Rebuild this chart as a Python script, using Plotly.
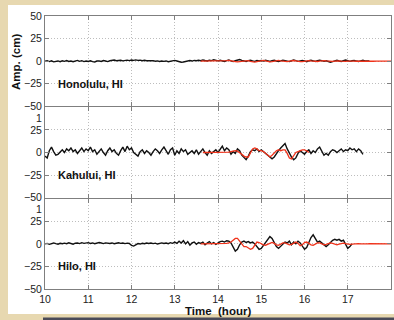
import numpy as np
import plotly.graph_objects as go
from plotly.subplots import make_subplots

STEP = 0.05  # hours between samples

stations = ["Honolulu, HI", "Kahului, HI", "Hilo, HI"]
x_ticks = [10, 11, 12, 13, 14, 15, 16, 17, 18]
y_ticks_top = [-50, -25, 0, 25, 50]
y_ticks_lower = [-50, -25, 0, 25]

# observed (black) series: start hour + values every STEP hours
obs_start = [10.0, 10.0, 10.0]
honolulu_obs = [
    0, 0.5, -0.5, 0.3, -0.8, -0.3, 0.2, -0.6, 0.4, -0.2,
    0.6, -0.4, 0.1, -0.7, 0.3, 0.8, -0.2, 0.5, -0.5, 0.2,
    -0.3, 0.4, -0.6, -0.9, 0.1, 0.3, -0.4, 0.6, 0.2, -0.5,
    0.4, 0.9, 1.2, 0.5, 0.8, 1.0, 0.3, 0.7, 1.1, 0.6,
    1.3, 0.9, 1.4, 0.8, 1.1, 0.5, 0.9, 0.4, 0.6, 0.2,
    0.5, -0.1, 0.3, -0.4, 0.1, -0.3, 0.2, -0.6, -0.1, 0.4,
    0.8, 0.2, -0.5, -1.2, -1.0, -0.4, 0.3, 0.6, 0.1, 0.8,
    0.4, 1.0, 0.5, 1.3, 0.7, 0.2, 1.1, 0.6, 1.5, 0.8,
    0.3, 1.0, 0.4, -0.3, 0.6, 1.2, 0.2, -0.5, 0.4, 0.9,
    1.8, 0.8, 0.2, -0.4, 0.5, 1.1, 0.3, -0.2, 0.6, 0.1,
    0.7, 0.2, 1.0, 0.4, -0.3, 0.5, 0.9, 0.2, -0.4, 0.3,
    1.1, 0.6, 0.0, -0.5, 0.4, 1.3, 0.5, -0.2, 0.3, 0.8,
    0.2, -0.6, 0.4, 1.0, 0.3, -0.4, 0.6, 1.1, 0.5, -0.2,
    0.4, -0.8, -1.2, -0.5, 0.3, 0.9, 0.2, -0.3, 0.6, 1.2,
    0.5, -0.2, 0.4, 0.8, 0.1, -0.4, 0.3, 0.9, 0.2, 0.6,
    0.3,
]
kahului_obs = [
    -4, -6, 2, 6, 1, -3, -2, 1, 3, 0,
    4, 2, 5, 1, 3, -1, 2, 5, 1, 4,
    2, 6, 1, 3, -2, 1, 4, 0, -3, 2,
    5, 1, 3, -1, -3, 2, 6, 1, 7, 3,
    5, 0, -2, -4, 1, 3, -1, 2, 0, -3,
    1, 4, 2, -1, 3, 6, 2, -2, 3, 5,
    -3, 2, -1, 4, 1, 3, -2, 0, 2, -1,
    3, -2, 1, 4, 0, -3, 2, -1, 1, 3,
    0, 4, 7, 2, 5, 3, -2, 1, -1, 4,
    2, -3, -5, -8, -4, 1, 3, 2, 4, 1,
    3, 1, -2, -4, -6, -7, -5, -1, 2, 5,
    8, 10, 4, -1, -5, -8, -6, -1, 2, 0,
    -2, 1, 3, -1, 2, 0, 4, 6, 2, -3,
    -1, -3, 1, 3, 2, 0, 2, 4, 1, 3,
    2, 5, 3, 4, 1, 4, 2, -2,
]
hilo_obs = [
    0, 0.5, -0.5, 0.3, 1, 0.2, -0.4, 0.6, 0.1, 0.8,
    0.2, 1.2, 0.5, -0.3, 0.7, 1.0, 0.3, 1.3, 0.6, 0.9,
    1.4, 0.5, 1.0, 0.2, 0.8, 1.5, 0.9, 0.3, 1.1, 0.6,
    0.4, 1.0, 0.2, 0.7, 1.2, 0.5, 0.9, 0.3, 0.8, 0.4,
    -1.8, -2.5, -0.8, 0.3, -0.2, 0.6, 0.1, 0.9, 0.4, 1.0,
    0.3, 0.8, -0.2, 0.5, 1.1, 0.4, 0.9, 0.2, 1.3, 0.6,
    2, 0.5, 3, 1, 3.5, 0, 2.5, -1.5, 1, 2,
    -0.5, 1.5, 0.5, 2, -1, 1, 2.5, 0, 1.5, -0.5,
    1, 2.5, 3, 2, 3.5, 3, 1, -4, -8, -6,
    -1, 2, 3, 1.5, 2.5, 1, 2, 0, -3, -6,
    -5, -2, 2, 5, 8, 6, 1, -3, -5, -3,
    0, 2, 1, 3, -1, 2, 0, 3, 1, -2,
    -6, -4, 1, 7, 10, 6, 2, 3, 1, -1,
    -3, -1, 2, 4, 5, 4, 5, 3, 4, 0,
    -5, -3, 0,
]

# model (red) series
mod_start = [13.6, 13.65, 13.6]
honolulu_mod = [
    0, 0, 0, 0.1, 0.2, 0.3, 0.2, 0, -0.2, -0.3,
    -0.2, 0.1, 0.5, 0.8, 0.6, 0.1, -0.5, -0.9, -0.6, 0,
    0.6, 0.9, 0.5, -0.2, -0.8, -1.0, -0.5, 0.2, 0.7, 0.8,
    0.4, -0.3, -0.8, -0.6, 0, 0.6, 0.8, 0.4, -0.2, -0.7,
    -0.6, -0.1, 0.5, 0.7, 0.4, -0.2, -0.6, -0.5, 0, 0.5,
    0.6, 0.3, -0.2, -0.5, -0.4, 0, 0.4, 0.5, 0.2, -0.2,
    -0.4, -0.3, 0.1, 0.4, 0.3, 0, -0.3, -0.3, 0, 0.2,
    0.3, 0.1, -0.1, -0.2, -0.1, 0.1, 0.2, 0.1, 0, -0.1,
    -0.1, 0, 0.1, 0.1, 0, -0.1, 0, 0.1,
    0,
]
kahului_mod = [
    0, 0, 0, 0, 0, 0, 0, 0, 0, 0,
    0, 0.2, 0.5, 1, 1.5, 2, 1.5, 0, -2, -4,
    -5, -5, -1, 4, 5, 4, 2, 2, 1, -1,
    -4, -5, -3, 0, 2, 3, 2, 3, 3, -1,
    -6, -7, -3, 0, 1, 2, 3, 3, 2, 0,
]
hilo_mod = [
    0, 0, 0, 0, 0, 0, 0, 0, 0, 0,
    0, 0.2, 0.5, 1, 2, 4, 6, 6, 3, -1,
    -3, -3, -5, -6, -5, -1, 2, 1.5, 0, -1,
    -1.5, -0.5, 1, 1.5, 0.5, -1, -1.5, -0.5, 1, 1,
    0, -1, -0.5, 1, 2, 0.5, -2, -1, 1.5, 2,
    0.5, -1, -1.5, 0, 1, 1, 0, -1, -0.5, 0.5,
    1, 0.5, -0.5, -1, -0.3, 0.5, 0.8, 0.3, -0.3, -0.5,
    -0.2, 0.2, 0.4, 0.2, -0.1, -0.3, -0.1, 0.1, 0.2, 0.1,
    0, -0.1, 0, 0.1, 0.1, 0, -0.1, 0,
    0,
]

obs = [honolulu_obs, kahului_obs, hilo_obs]
mod = [honolulu_mod, kahului_mod, hilo_mod]

W, H = 394, 320
ML, MR, MT, MB = 45, 3, 16, 31
PW, PH = W - ML - MR, H - MT - MB

def px_x(p):
    return (p - ML) / PW

def px_y(p):
    return 1 - (p - MT) / PH

FONT = "Liberation Sans, Arial, Helvetica, sans-serif"
BEIGE = "#e7d8b0"
TXT = "#111111"

fig = make_subplots(rows=3, cols=1, vertical_spacing=0.004)

for i in range(3):
    t_obs = obs_start[i] + STEP * np.arange(len(obs[i]))
    t_mod = mod_start[i] + STEP * np.arange(len(mod[i]))
    fig.add_trace(go.Scatter(x=t_obs, y=obs[i], mode="lines",
                             line=dict(color="#111111", width=1.4),
                             showlegend=False, hoverinfo="skip"), row=i + 1, col=1)
    fig.add_trace(go.Scatter(x=t_mod, y=mod[i], mode="lines",
                             line=dict(color="#f0321a", width=1.3),
                             showlegend=False, hoverinfo="skip"), row=i + 1, col=1)
    fig.update_xaxes(range=[10, 18], tickvals=x_ticks, showticklabels=(i == 2),
                     row=i + 1, col=1)
    fig.update_yaxes(range=[-50, 50], row=i + 1, col=1,
                     tickvals=y_ticks_top if i == 0 else y_ticks_lower,
                     minor=dict(tickvals=[50], ticks="inside", ticklen=4,
                                tickcolor="#7f7f7f", showgrid=False))
    xr = "x" if i == 0 else f"x{i+1}"
    yr = "y" if i == 0 else f"y{i+1}"
    fig.add_annotation(x=10.25, y=-25, xref=xr, yref=yr, text=f"<b>{stations[i]}</b>",
                       showarrow=False, xanchor="left", yanchor="middle",
                       font=dict(family=FONT, size=11, color=TXT))

axis_style = dict(showline=True, linecolor="#7f7f7f", linewidth=1, mirror="ticks",
                  ticks="inside", ticklen=4, tickcolor="#7f7f7f",
                  showgrid=True, gridcolor="#bdbdbd", griddash="1px,2px", gridwidth=1,
                  zeroline=False, tickfont=dict(family=FONT, size=10.5, color="#222222"))
fig.update_xaxes(**axis_style)
fig.update_yaxes(**axis_style)

# white panel on slide background
fig.add_shape(type="rect", xref="paper", yref="paper", layer="below",
              x0=px_x(8), x1=px_x(400), y0=px_y(314), y1=px_y(5),
              fillcolor="white", line=dict(width=0))
# dark strip at the very bottom
fig.add_shape(type="rect", xref="paper", yref="paper", layer="below",
              x0=px_x(43), x1=px_x(400), y0=px_y(322), y1=px_y(317.5),
              fillcolor="#4a4a58", line=dict(width=0))

# partly hidden tick labels of the upper panels ("10" and "18" clipped by the next panel)
for ypx in (118, 209):
    fig.add_annotation(text="1", xref="paper", yref="paper", x=px_x(44), y=px_y(ypx),
                       showarrow=False, xanchor="right", yanchor="middle",
                       font=dict(family=FONT, size=10.5, color="#222222"))
    fig.add_annotation(text="8", xref="paper", yref="paper", x=px_x(392), y=px_y(ypx),
                       showarrow=False, xanchor="left", yanchor="middle",
                       font=dict(family=FONT, size=10.5, color="#222222"))

fig.add_annotation(text="<b>Amp. (cm)</b>", xref="paper", yref="paper",
                   x=px_x(16), y=px_y(62), textangle=-90, showarrow=False,
                   xanchor="center", yanchor="middle",
                   font=dict(family=FONT, size=11.5, color=TXT))
fig.add_annotation(text="<b>Time  (hour)</b>", xref="paper", yref="paper",
                   x=px_x(218), y=px_y(311), showarrow=False,
                   xanchor="center", yanchor="middle",
                   font=dict(family=FONT, size=11.5, color=TXT))

fig.update_layout(width=W, height=H, margin=dict(l=ML, r=MR, t=MT, b=MB),
                  paper_bgcolor=BEIGE, plot_bgcolor="white", showlegend=False)

fig.write_html("out.html", config={"displayModeBar": False},
               post_script="document.body.style.margin='0px';"
                           "document.body.style.overflow='hidden';")
